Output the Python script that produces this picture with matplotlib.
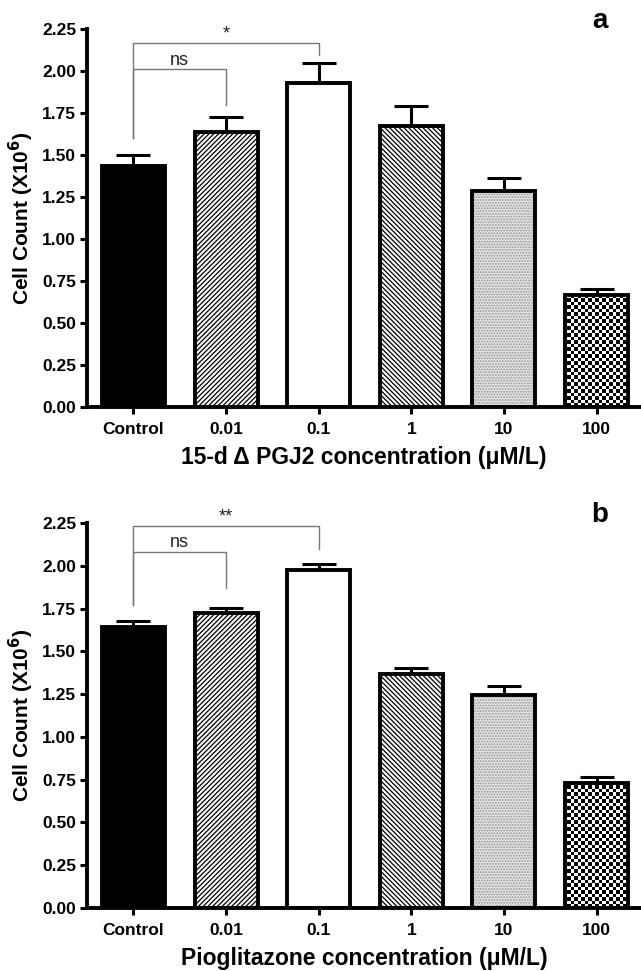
import matplotlib.pyplot as plt
import numpy as np

plt.rcParams['font.family'] = ['Liberation Sans', 'DejaVu Sans']
plt.rcParams['hatch.linewidth'] = 0.9

categories = ['Control', '0.01', '0.1', '1', '10', '100']

# panel a: 15-d PGJ2
means_a = [1.435, 1.64, 1.93, 1.675, 1.285, 0.665]
errs_a = [0.065, 0.085, 0.115, 0.115, 0.08, 0.035]
# panel b: pioglitazone
means_b = [1.645, 1.725, 1.975, 1.365, 1.245, 0.73]
errs_b = [0.035, 0.03, 0.035, 0.04, 0.05, 0.035]

# brackets: (x1, x2, top, left_bottom, right_bottom, label)
brackets_a = [(0, 1, 2.01, 1.60, 1.80, 'ns'), (0, 2, 2.165, 1.60, 2.095, '*')]
brackets_b = [(0, 1, 2.08, 1.77, 1.87, 'ns'), (0, 2, 2.23, 1.77, 2.10, '**')]

xlabels = ['15-d \u0394 PGJ2 concentration (\u03bcM/L)',
           'Pioglitazone concentration (\u03bcM/L)']

styles = [
    dict(facecolor='black', hatch=None, hcol='black'),
    dict(facecolor='white', hatch='/' * 7, hcol='black'),
    dict(facecolor='white', hatch=None, hcol='black'),
    dict(facecolor='white', hatch='\\' * 7, hcol='black'),
    dict(facecolor='#e2e2e2', hatch='......', hcol='#9a9a9a'),
    dict(facecolor='white', hatch='checker', hcol='black'),
]


def draw_panel(ax, means, errs, brackets, xlabel, letter):
    x = np.arange(len(categories))
    ax.set_xlim(-0.5, 5.48)
    ax.set_ylim(0, 2.25)
    fills = []
    for i in range(len(x)):
        st = styles[i]
        h = st['hatch'] if st['hatch'] != 'checker' else None
        b = ax.bar(x[i], means[i], width=0.68, color=st['facecolor'],
                   hatch=h, edgecolor=st['hcol'], linewidth=0, zorder=2)
        fills.append(b[0])
    # checkerboard fill for the last bar, clipped to its rectangle
    bb = ax.get_window_extent()
    nx, ny = int(bb.width / 3.5), int(bb.height / 3.5)
    board = (np.add.outer(np.arange(ny), np.arange(nx)) % 2).astype(float)
    im = ax.imshow(board, cmap='gray', extent=(-0.5, 5.48, 0, 2.25),
                   aspect='auto', interpolation='nearest', zorder=2.5)
    im.set_clip_path(fills[5])
    ax.bar(x, means, width=0.68, fill=False, edgecolor='black',
           linewidth=2.8, zorder=3)
    ax.errorbar(x, means, yerr=[np.zeros(len(x)), errs], fmt='none',
                ecolor='black', elinewidth=2.2, capsize=12, capthick=2.2,
                zorder=1)
    for x1, x2, top, lb, rb, lab in brackets:
        ax.plot([x1, x1, x2, x2], [lb, top, top, rb], color='#777777',
                linewidth=1.0, zorder=1)
        ax.text((x1 + x2) / 2, top + 0.005, lab, ha='center', va='bottom',
                fontsize=13, color='#222222')
    ax.set_xlim(-0.5, 5.48)
    ax.set_ylim(0, 2.25)
    ax.set_yticks(np.arange(0, 2.26, 0.25))
    ax.set_yticklabels(['%.2f' % v for v in np.arange(0, 2.26, 0.25)],
                       fontweight='bold', fontsize=12.5)
    ax.set_xticks(x)
    ax.set_xticklabels(categories, fontweight='bold', fontsize=12.5)
    for s in ['top', 'right']:
        ax.spines[s].set_visible(False)
    for s in ['left', 'bottom']:
        ax.spines[s].set_linewidth(2.8)
    ax.tick_params(axis='y', direction='out', width=2.2, length=5, pad=3)
    ax.tick_params(axis='x', direction='out', width=2.2, length=5, pad=6)
    ax.set_ylabel('Cell Count (X10$^\\mathbf{6}$)', fontweight='bold',
                  fontsize=15, labelpad=4)
    ax.set_xlabel(xlabel, fontweight='bold', fontsize=16.5, labelpad=6)
    ax.text(0.926, 1.02, letter, transform=ax.transAxes, ha='center',
            va='center', fontsize=20, fontweight='bold')


fig = plt.figure(figsize=(6.41, 9.71), dpi=100)
ax1 = fig.add_axes([0.136, 0.5808, 0.864, 0.3893])
ax2 = fig.add_axes([0.136, 0.0649, 0.864, 0.3965])
draw_panel(ax1, means_a, errs_a, brackets_a, xlabels[0], 'a')
draw_panel(ax2, means_b, errs_b, brackets_b, xlabels[1], 'b')

fig.savefig('out.png', dpi=100)
